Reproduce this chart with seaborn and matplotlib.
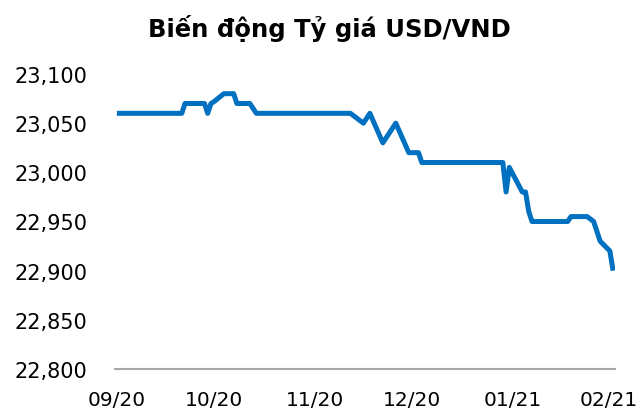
import matplotlib
matplotlib.use("Agg")
import matplotlib.pyplot as plt
import matplotlib.transforms as mtransforms
from matplotlib.ticker import FuncFormatter
import pandas as pd
import seaborn as sns

# Data (vertices)
dates = ["2020-09-01", "2020-09-21", "2020-09-22", "2020-09-28", "2020-09-29",
         "2020-09-30", "2020-10-01", "2020-10-04", "2020-10-07", "2020-10-08",
         "2020-10-12", "2020-10-14", "2020-11-12", "2020-11-16", "2020-11-18",
         "2020-11-22", "2020-11-24", "2020-11-26", "2020-11-30", "2020-12-03",
         "2020-12-04", "2020-12-29", "2020-12-30", "2020-12-31", "2021-01-04",
         "2021-01-05", "2021-01-06", "2021-01-07", "2021-01-18", "2021-01-19",
         "2021-01-24", "2021-01-26", "2021-01-28", "2021-01-31", "2021-02-01"]
rates = [23060, 23060, 23070, 23070, 23060,
         23070, 23072, 23080, 23080, 23070,
         23070, 23060, 23060, 23050, 23060,
         23030, 23040, 23050, 23020, 23020,
         23010, 23010, 22980, 23005, 22980,
         22980, 22960, 22950, 22950, 22955,
         22955, 22950, 22930, 22920, 22900]
tick_dates = ["2020-09-01", "2020-10-01", "2020-11-01", "2020-12-01",
              "2021-01-01", "2021-02-01"]
tick_labels = ["09/20", "10/20", "11/20", "12/20", "01/21", "02/21"]
y_ticks = [22800, 22850, 22900, 22950, 23000, 23050, 23100]
title = "Biến động Tỷ giá USD/VND"

df = pd.DataFrame({"date": pd.to_datetime(dates), "rate": rates})

sns.set_style("white")
plt.rcParams["font.family"] = ["DejaVu Sans"]
plt.rcParams["text.color"] = "black"

W, H = 641, 414
fig = plt.figure(figsize=(W / 100, H / 100), dpi=100)
left, right, top, bottom = 115, 615, 75, 370
ax = fig.add_axes([left / W, 1 - bottom / H, (right - left) / W, (bottom - top) / H])

sns.lineplot(data=df, x="date", y="rate", ax=ax, color="#0070C0",
             linewidth=3.6, solid_joinstyle="round", solid_capstyle="butt")

ax.set_xlim(pd.Timestamp("2020-09-01") - pd.Timedelta(hours=14),
            pd.Timestamp("2021-02-01") + pd.Timedelta(hours=14))
ax.set_ylim(22800, 23100)
ax.set_yticks(y_ticks)
ax.yaxis.set_major_formatter(FuncFormatter(lambda v, p: f"{int(v):,}"))
ax.set_xticks(pd.to_datetime(tick_dates))
ax.set_xticklabels(tick_labels)
ax.tick_params(axis="both", length=0, colors="black", labelcolor="black")
ax.tick_params(axis="y", pad=20, labelsize=15)
ax.tick_params(axis="x", pad=15, labelsize=14.5)
ax.set_xlabel("")
ax.set_ylabel("")
for s in ["top", "right", "left"]:
    ax.spines[s].set_visible(False)
ax.spines["bottom"].set_color("#A6A6A6")
ax.spines["bottom"].set_linewidth(1.5)
ax.grid(False)

# keep the last month label inside the canvas
last = ax.get_xticklabels()[-1]
last.set_transform(last.get_transform() +
                   mtransforms.ScaledTranslation(-4 / 100, 0, fig.dpi_scale_trans))

fig.text(329 / W, 1 - 28 / H, title, ha="center", va="center",
         fontsize=17.5, fontweight="bold", color="black")

fig.savefig("out.png", dpi=100)
